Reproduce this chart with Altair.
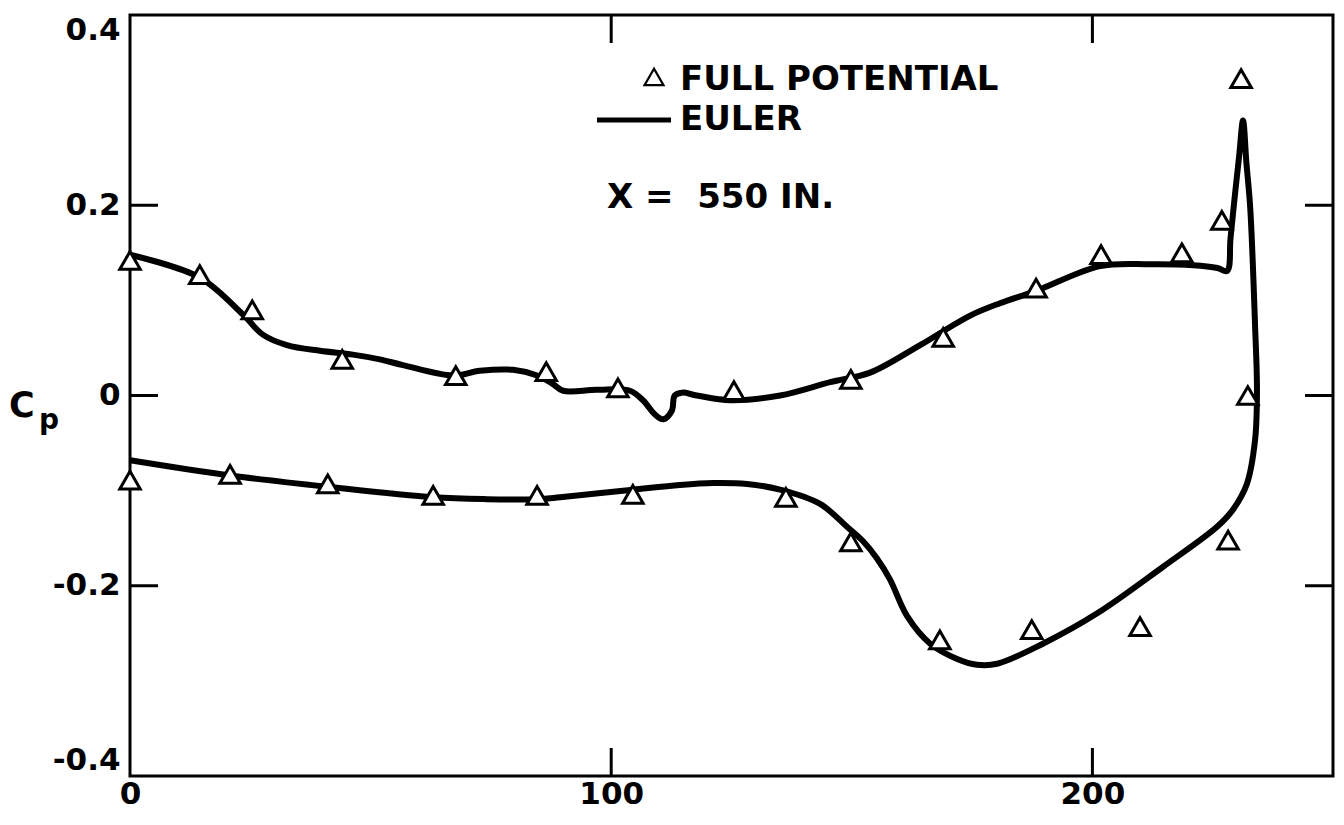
import altair as alt
import pandas as pd

# ---------------- data ----------------
# Euler solution: one continuous path (upper surface from x=0 to the trailing edge,
# around the trailing-edge spike, then back along the lower surface)
euler_x = [0.0, 14.5, 23.5, 27.6, 32.6, 39.5, 46.3, 51.9, 56.7, 67.1, 72.7, 79.6, 84.6,
           87.9, 90.0, 97.0, 103.9, 106.6, 109.1, 110.8, 112.6, 113.2, 114.7, 117.8,
           124.7, 135.1, 145.5, 153.8, 164.2, 174.6, 180.8, 188.3, 201.6, 212.0, 220.9,
           226.0, 228.0, 228.7, 229.6, 230.5, 231.3, 232.0, 232.8, 233.8, 234.2, 233.8,
           232.1, 229.2, 225.9, 214.7, 201.0,
           189.7, 180.2, 176.0, 171.9, 166.3, 161.5, 157.9, 155.2, 152.3, 149.0, 143.4,
           135.1, 128.2, 121.2, 114.3, 104.5, 89.4, 84.6, 74.2, 63.0, 41.1, 20.8, 0.0]
euler_cp = [0.148, 0.124, 0.085, 0.064, 0.053, 0.047, 0.043, 0.038, 0.032, 0.021, 0.026,
            0.027, 0.021, 0.012, 0.005, 0.006, 0.005, -0.005, -0.020, -0.025, -0.016,
            0.000, 0.003, 0.000, -0.005, 0.000, 0.014, 0.024, 0.053, 0.084, 0.097, 0.110,
            0.136, 0.138, 0.137,
            0.134, 0.131, 0.165, 0.210, 0.252, 0.289, 0.245, 0.197, 0.074, 0.005, -0.047,
            -0.093, -0.120, -0.138, -0.180, -0.229,
            -0.261, -0.282, -0.283, -0.277, -0.261, -0.232, -0.193,
            -0.171, -0.153, -0.138, -0.114, -0.099, -0.093, -0.092, -0.094, -0.099, -0.107,
            -0.109, -0.109, -0.107, -0.096, -0.084, -0.068]

# Full potential solution (triangles)
fp_upper_x = [0.0, 14.5, 25.4, 44.1, 67.7, 86.5, 101.4, 125.5, 149.8, 169.0, 188.3,
              201.8, 218.6, 226.9, 230.9, 232.3]
fp_upper_cp = [0.142, 0.127, 0.090, 0.038, 0.021, 0.025, 0.008, 0.005, 0.017, 0.061,
               0.113, 0.148, 0.150, 0.184, 0.333, 0.000]
fp_lower_x = [0.0, 20.8, 41.1, 63.0, 84.6, 104.5, 136.3, 149.8, 168.3, 187.4, 209.9, 228.2]
fp_lower_cp = [-0.089, -0.083, -0.093, -0.105, -0.105, -0.104, -0.107, -0.154, -0.257,
               -0.246, -0.243, -0.152]

x_tick_values = [0, 100, 200]
y_tick_values = [0.4, 0.2, 0.0, -0.2, -0.4]
inner_x_ticks = [100, 200]
inner_y_ticks = [0.2, 0.0, -0.2]

legend_labels = ["FULL POTENTIAL", "EULER"]
station_label = "X =\u00a0 550 IN."
y_title_main = "C"
y_title_sub = "p"

# ---------------- chart ----------------
W, H = 1203, 761
FONT = "DejaVu Sans"

euler_df = pd.DataFrame({"i": list(range(len(euler_x))), "x": euler_x, "cp": euler_cp})
fp_df = pd.DataFrame({"x": fp_upper_x + fp_lower_x, "cp": fp_upper_cp + fp_lower_cp})
xt_df = pd.DataFrame({"x": inner_x_ticks})
yt_df = pd.DataFrame({"cp": inner_y_ticks})
one = pd.DataFrame({"t": [0]})

x_enc = alt.X("x:Q",
              scale=alt.Scale(domain=[0, 250], nice=False, zero=False),
              axis=alt.Axis(values=x_tick_values, title=None, grid=False, domain=False,
                            ticks=False, labelFont=FONT, labelFontSize=31,
                            labelFontWeight="bold", labelColor="black", labelPadding=3,
                            labelFlush=False, format="d"))
y_enc = alt.Y("cp:Q",
              scale=alt.Scale(domain=[-0.4, 0.4], nice=False, zero=False),
              axis=alt.Axis(values=y_tick_values, title=None, grid=False, domain=False,
                            ticks=False, labelFont=FONT, labelFontSize=31,
                            labelFontWeight="bold", labelColor="black", labelPadding=10,
                            labelFlush=True,
                            labelExpr="abs(datum.value) < 1e-9 ? '0' : (datum.value < 0 ? '-' + format(-datum.value, '.1f') : format(datum.value, '.1f'))"))

euler = alt.Chart(euler_df).mark_line(
    color="black", strokeWidth=6, interpolate="catmull-rom"
).encode(x=x_enc, y=y_enc, order=alt.Order("i:Q"))

fp = alt.Chart(fp_df).mark_point(
    shape="triangle-up", size=420, filled=True, fill="white", stroke="black",
    strokeWidth=3, opacity=1
).encode(x=x_enc, y=y_enc)

tick_style = dict(color="black", strokeWidth=3)
left_ticks = alt.Chart(yt_df).mark_rule(**tick_style).encode(
    y=y_enc, x=alt.value(0), x2=alt.value(28))
right_ticks = alt.Chart(yt_df).mark_rule(**tick_style).encode(
    y=y_enc, x=alt.value(W - 28), x2=alt.value(W))
bottom_ticks = alt.Chart(xt_df).mark_rule(**tick_style).encode(
    x=x_enc, y=alt.value(H - 28), y2=alt.value(H))
top_ticks = alt.Chart(xt_df).mark_rule(**tick_style).encode(
    x=x_enc, y=alt.value(0), y2=alt.value(28))

text_style = dict(font=FONT, fontWeight="bold", color="black", align="left",
                  baseline="alphabetic")

leg_tri = alt.Chart(one).mark_point(
    shape="triangle-up", size=360, filled=True, fill="white", stroke="black",
    strokeWidth=2.2, opacity=1
).encode(x=alt.value(524), y=alt.value(62))
leg_t1 = alt.Chart(one).mark_text(fontSize=34, **text_style).encode(
    x=alt.value(550), y=alt.value(75), text=alt.value(legend_labels[0]))
leg_line = alt.Chart(one).mark_rule(color="black", strokeWidth=5).encode(
    x=alt.value(467), x2=alt.value(541), y=alt.value(105))
leg_t2 = alt.Chart(one).mark_text(fontSize=34, **text_style).encode(
    x=alt.value(550), y=alt.value(115), text=alt.value(legend_labels[1]))
station = alt.Chart(one).mark_text(fontSize=34, **text_style).encode(
    x=alt.value(477), y=alt.value(193), text=alt.value(station_label))

cp_c = alt.Chart(one).mark_text(fontSize=35, **text_style).encode(
    x=alt.value(-121), y=alt.value(402), text=alt.value(y_title_main))
cp_p = alt.Chart(one).mark_text(fontSize=28, **text_style).encode(
    x=alt.value(-91), y=alt.value(414), text=alt.value(y_title_sub))

chart = alt.layer(
    euler, left_ticks, right_ticks, bottom_ticks, top_ticks, fp,
    leg_tri, leg_t1, leg_line, leg_t2, station, cp_c, cp_p
).properties(
    width=W, height=H,
    autosize=alt.AutoSizeParams(type="none"),
    padding={"left": 122, "top": 7, "right": 3, "bottom": 34},
    background="white",
).configure_view(stroke="black", strokeWidth=3)

chart.save("out.html", embed_options={"renderer": "svg", "actions": False})
